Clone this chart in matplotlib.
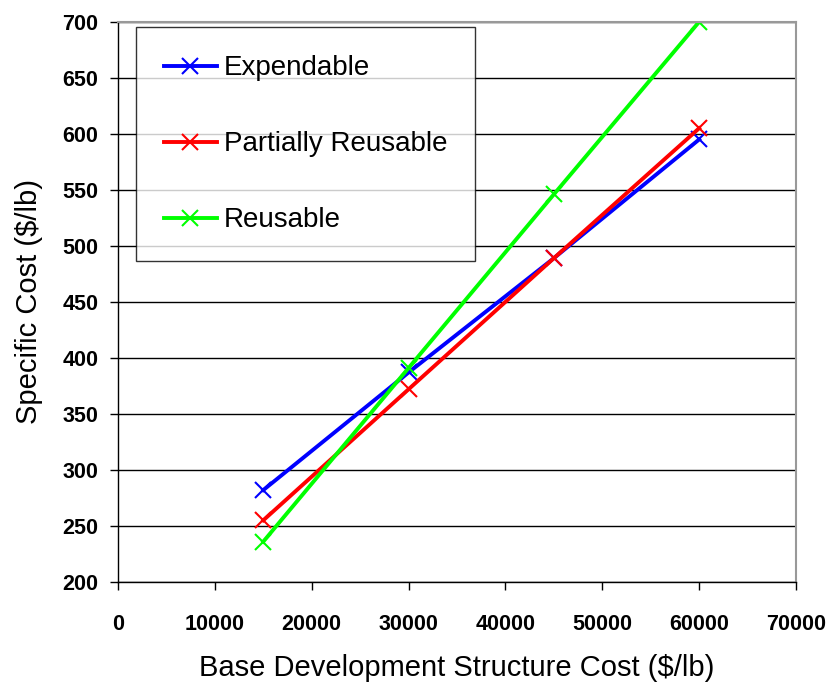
import matplotlib.pyplot as plt

plt.rcParams['font.family'] = ['Liberation Sans', 'DejaVu Sans']

structure_cost = [15000, 30000, 45000, 60000]
expendable = [282, 387, 489, 595]
partially_reusable = [255, 372, 489, 605]
reusable = [236, 391, 546, 700]

fig = plt.figure(figsize=(8.37, 6.83), dpi=100)
ax = fig.add_axes([0.141, 0.148, 0.81, 0.82])

ax.plot(structure_cost, expendable, color='#0000ff', lw=2.8, marker='x',
        ms=11, mew=1.5, label='Expendable')
ax.plot(structure_cost, partially_reusable, color='#ff0000', lw=2.8, marker='x',
        ms=11, mew=1.5, label='Partially Reusable')
ax.plot(structure_cost, reusable, color='#00ff00', lw=2.8, marker='x',
        ms=11, mew=1.5, label='Reusable')

ax.set_xlim(0, 70000)
ax.set_ylim(200, 700)
ax.set_xticks(range(0, 70001, 10000))
ax.set_yticks(range(200, 701, 50))
ax.yaxis.grid(True, color='black', lw=1)
ax.set_axisbelow(True)

for s in ['top', 'right']:
    ax.spines[s].set_color('#999999')
    ax.spines[s].set_linewidth(1.5)
for s in ['left', 'bottom']:
    ax.spines[s].set_color('black')
    ax.spines[s].set_linewidth(1)

ax.tick_params(axis='both', direction='out', length=6, width=1, labelsize=15.5)
ax.tick_params(axis='x', pad=17)
ax.tick_params(axis='y', pad=8)
for lab in ax.get_xticklabels() + ax.get_yticklabels():
    lab.set_fontweight('bold')

ax.set_xlabel('Base Development Structure Cost ($/lb)', fontsize=21, labelpad=14)
ax.set_ylabel('Specific Cost ($/lb)', fontsize=21, labelpad=14)

leg = ax.legend(loc='upper left', bbox_to_anchor=(0.027, 0.99), fontsize=20,
                frameon=True, fancybox=False, edgecolor='black',
                labelspacing=1.8, handlelength=1.9, handletextpad=0.25,
                borderpad=1.0, borderaxespad=0)
leg.get_frame().set_linewidth(1)

fig.savefig('out.png', dpi=100)
